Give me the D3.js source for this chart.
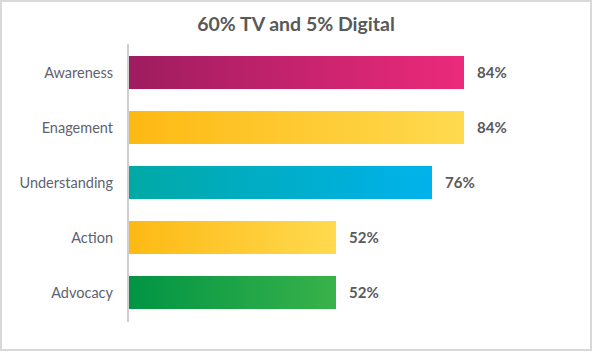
<!DOCTYPE html>
<head>
  <style>
    body { margin: 0; background: #fff; }
    .cat { font: 14.5px Lato, sans-serif; fill: #5d6270; }
    .val { font: bold 15px Lato, sans-serif; fill: #595a5c; }
    .title { font: bold 19.5px Lato, sans-serif; fill: #58595b; }
  </style>
</head>
<body>
  <script src="https://cdn.jsdelivr.net/npm/d3@7/dist/d3.min.js"></script>
  <script>
    // chart data
    var categories = ["Awareness", "Enagement", "Understanding", "Action", "Advocacy"];
    var values = [84, 84, 76, 52, 52];
    var colorsFrom = ["#9e1c5f", "#fdb913", "#00a9a5", "#fdb913", "#009444"];
    var colorsTo = ["#ec2a7b", "#ffda4f", "#00b2ec", "#ffda4f", "#39b24a"];

    var W = 593, H = 352;

    var svg = d3.select("body").append("svg")
        .attr("width", W)
        .attr("height", H);

    // outer frame
    svg.append("rect")
        .attr("x", 1).attr("y", 1)
        .attr("width", W - 3).attr("height", H - 3)
        .attr("fill", "none")
        .attr("stroke", "#d9d9d9")
        .attr("stroke-width", 2);

    var x = d3.scaleLinear().domain([0, 100]).range([128, 528]);
    var y = d3.scaleBand()
              .domain(categories)
              .range([45, 320])
              .paddingInner(0.4)
              .paddingOuter(0.2);

    var defs = svg.append("defs");
    categories.forEach(function(c, i) {
      var g = defs.append("linearGradient")
          .attr("id", "grad" + i)
          .attr("x1", "0%").attr("x2", "100%")
          .attr("y1", "0%").attr("y2", "0%");
      g.append("stop").attr("offset", "0%").attr("stop-color", colorsFrom[i]);
      g.append("stop").attr("offset", "100%").attr("stop-color", colorsTo[i]);
    });

    svg.selectAll(".bar")
        .data(values)
      .enter().append("rect")
        .attr("class", "bar")
        .attr("x", x(0))
        .attr("y", function(d, i) { return y(categories[i]); })
        .attr("width", function(d) { return x(d) - x(0); })
        .attr("height", y.bandwidth())
        .attr("fill", function(d, i) { return "url(#grad" + i + ")"; });

    // axis line
    svg.append("line")
        .attr("x1", x(0)).attr("x2", x(0))
        .attr("y1", 44).attr("y2", 322)
        .attr("stroke", "#cfcfcf")
        .attr("stroke-width", 2);

    svg.selectAll(".cat")
        .data(categories)
      .enter().append("text")
        .attr("class", "cat")
        .attr("x", 113)
        .attr("y", function(d) { return y(d) + y.bandwidth() / 2; })
        .attr("dy", "0.35em")
        .attr("text-anchor", "end")
        .text(function(d) { return d; });

    svg.selectAll(".val")
        .data(values)
      .enter().append("text")
        .attr("class", "val")
        .attr("x", function(d) { return x(d) + 13; })
        .attr("y", function(d, i) { return y(categories[i]) + y.bandwidth() / 2; })
        .attr("dy", "0.35em")
        .text(function(d) { return d + "%"; });

    svg.append("text")
        .attr("class", "title")
        .attr("x", 296)
        .attr("y", 31)
        .attr("text-anchor", "middle")
        .text("60% TV and 5% Digital");
  </script>
</body>
